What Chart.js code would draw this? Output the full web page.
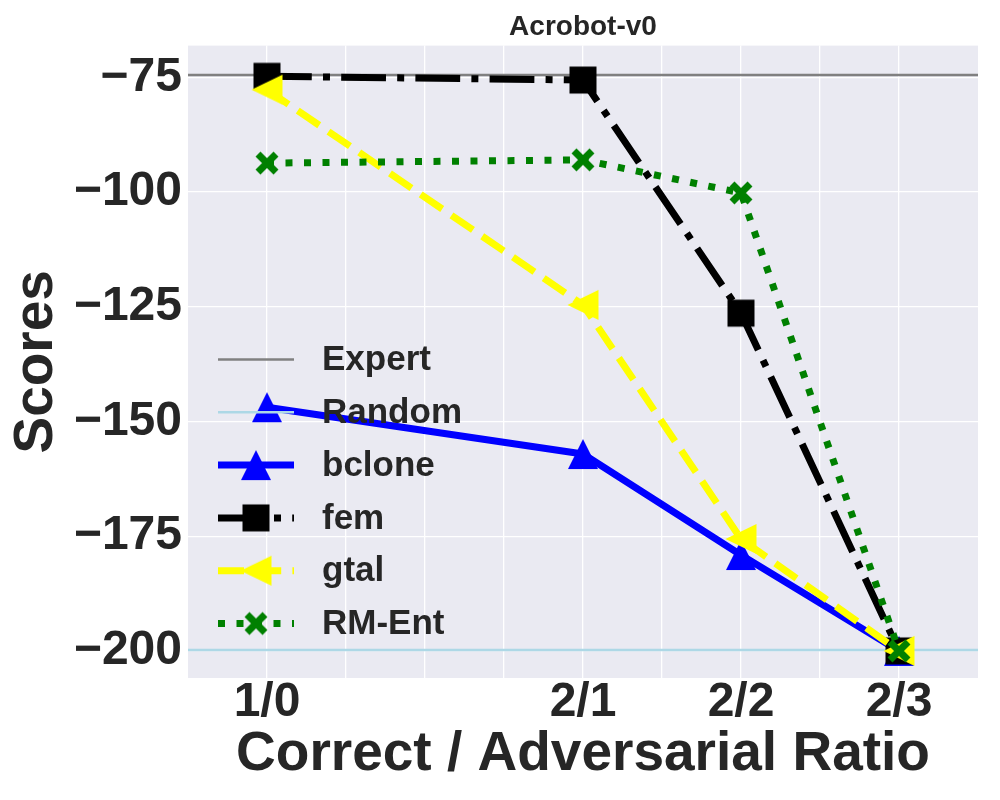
<!DOCTYPE html>
<html>
<head>
<meta charset="utf-8">
<script src="https://cdn.jsdelivr.net/npm/chart.js@4.4.0/dist/chart.umd.min.js"></script>
<style>
  html, body { margin: 0; padding: 0; background: #fff; }
  #wrap { width: 1000px; height: 800px; }
</style>
</head>
<body>
<div id="wrap"><canvas id="myChart" width="1000" height="800"></canvas></div>
<script>
// data
const ratioPos = [0, 4, 6, 8];
const ratioLabels = ["1/0", "2/1", "2/2", "2/3"];
const xGrid = [0, 1, 2, 3, 4, 5, 6, 7, 8];
const yTicks = [-200, -175, -150, -125, -100, -75];

const bclone = [-146.9, -157.1, -179.1, -200];
const fem = [-74.8, -75.6, -126.4, -200];
const gtal = [-77.7, -124.6, -175.6, -200];
const rmEnt = [-93.7, -93.0, -100.2, -200];
const expertScore = -74.5;
const randomScore = -199.8;

const xRange = [-1, 9];
const yRange = [-205.9, -68.1];

const FONT = '"Liberation Sans", Arial, sans-serif';
const TEXT = "#262626";

// marker images, drawn like matplotlib markers
function marker(kind, color) {
  const c = document.createElement("canvas");
  c.width = 40;
  c.height = 40;
  const g = c.getContext("2d");
  const m = 20;
  g.fillStyle = color;
  g.strokeStyle = color;
  g.beginPath();
  if (kind === "up") {
    g.moveTo(m, m - 15); g.lineTo(m - 15, m + 15); g.lineTo(m + 15, m + 15);
    g.closePath(); g.fill();
  } else if (kind === "left") {
    g.moveTo(m - 15.5, m); g.lineTo(m + 15.5, m - 15); g.lineTo(m + 15.5, m + 15);
    g.closePath(); g.fill();
  } else if (kind === "square") {
    g.rect(m - 13.5, m - 13.5, 27, 27); g.fill();
  } else if (kind === "x") {
    g.lineWidth = 7;
    g.moveTo(m - 9, m - 9); g.lineTo(m + 9, m + 9);
    g.moveTo(m - 9, m + 9); g.lineTo(m + 9, m - 9);
    g.stroke();
  }
  return c;
}

function pts(ys) {
  return ratioPos.map((x, i) => ({ x: x, y: ys[i] }));
}

function hline(y) {
  return xRange.map(x => ({ x: x, y: y }));
}

const datasets = [
  { label: "Expert", data: hline(expertScore), borderColor: "#808080", borderWidth: 2.5, pointRadius: 0, order: 6 },
  { label: "Random", data: hline(randomScore), borderColor: "#ADD8E6", borderWidth: 2.5, pointRadius: 0, order: 5 },
  { label: "bclone", data: pts(bclone), borderColor: "#0000FF", borderWidth: 7, pointStyle: marker("up", "#0000FF"), order: 4 },
  { label: "fem", data: pts(fem), borderColor: "#000000", borderWidth: 7, borderDash: [44.8, 11.2, 7, 11.2], pointStyle: marker("square", "#000000"), order: 3 },
  { label: "gtal", data: pts(gtal), borderColor: "#FFFF00", borderWidth: 7, borderDash: [26, 11.2], pointStyle: marker("left", "#FFFF00"), order: 2 },
  { label: "RM-Ent", data: pts(rmEnt), borderColor: "#008000", borderWidth: 7, borderDash: [7, 11.5], pointStyle: marker("x", "#008000"), order: 1 }
];
datasets.forEach(d => {
  d.showLine = true;
  d.borderJoinStyle = "round";
  if (d.pointRadius === undefined) {
    d.pointRadius = 15;
    d.pointHoverRadius = 15;
  }
});

const plotBg = {
  id: "plotBg",
  beforeDraw(chart) {
    const a = chart.chartArea;
    const ctx = chart.ctx;
    ctx.save();
    ctx.fillStyle = "#EAEAF2";
    ctx.fillRect(a.left, a.top, a.right - a.left, a.bottom - a.top);
    ctx.restore();
  }
};

// matplotlib-like legend: line sample with the marker in the middle
const lineLegend = {
  id: "lineLegend",
  afterDraw(chart) {
    const ctx = chart.ctx;
    const x0 = 218, x1 = 294, top = 359.5, step = 52.8;
    chart.data.datasets.forEach((d, i) => {
      const y = top + i * step;
      ctx.save();
      ctx.strokeStyle = d.borderColor;
      ctx.lineWidth = d.borderWidth;
      ctx.setLineDash(d.borderDash || []);
      ctx.beginPath();
      ctx.moveTo(x0, y);
      ctx.lineTo(x1, y);
      ctx.stroke();
      if (d.pointStyle) {
        const img = d.pointStyle;
        ctx.drawImage(img, 256 - img.width / 2, y - img.height / 2);
      }
      ctx.fillStyle = TEXT;
      ctx.font = "bold 35px " + FONT;
      ctx.textBaseline = "middle";
      ctx.textAlign = "left";
      ctx.fillText(d.label, 322, y + 1);
      ctx.restore();
    });
  }
};

const ctx = document.getElementById("myChart").getContext("2d");
new Chart(ctx, {
  type: "scatter",
  data: { datasets: datasets },
  plugins: [plotBg, lineLegend],
  options: {
    responsive: false,
    animation: false,
    events: [],
    layout: { padding: { left: 0, right: 15, top: 0, bottom: 0 } },
    plugins: {
      legend: { display: false },
      tooltip: { enabled: false },
      title: {
        display: true,
        text: "Acrobot-v0",
        color: TEXT,
        fullSize: false,
        font: { family: FONT, size: 28, weight: "bold" },
        padding: { top: 10, bottom: 2 }
      }
    },
    scales: {
      x: {
        type: "linear",
        min: xRange[0],
        max: xRange[1],
        afterBuildTicks: s => { s.ticks = xGrid.map(v => ({ value: v })); },
        afterFit: s => { s.height = 122; s.paddingLeft = 0; s.paddingRight = 0; },
        grid: { color: "#ffffff", lineWidth: 1.3, drawTicks: false },
        border: { display: false },
        ticks: {
          autoSkip: false,
          maxRotation: 0,
          padding: -4,
          color: TEXT,
          font: { family: FONT, size: 48, weight: "bold" },
          callback: v => {
            const i = ratioPos.indexOf(v);
            return i >= 0 ? ratioLabels[i] : "";
          }
        },
        title: {
          display: true,
          text: "Correct / Adversarial Ratio",
          color: TEXT,
          font: { family: FONT, size: 55, weight: "bold" },
          padding: { top: 0, bottom: 12 }
        }
      },
      y: {
        min: yRange[0],
        max: yRange[1],
        afterBuildTicks: s => { s.ticks = yTicks.map(v => ({ value: v })); },
        afterFit: s => { s.width = 188; },
        grid: { color: "#ffffff", lineWidth: 1.3, drawTicks: false },
        border: { display: false },
        ticks: {
          autoSkip: false,
          padding: 6,
          color: TEXT,
          font: { family: FONT, size: 48, weight: "bold" },
          callback: v => (v < 0 ? "\u2212" + Math.abs(v) : String(v))
        },
        title: {
          display: true,
          text: "Scores",
          color: TEXT,
          font: { family: FONT, size: 55, weight: "bold" },
          padding: { top: 3.5, bottom: 0 }
        }
      }
    }
  }
});
</script>
</body>
</html>
